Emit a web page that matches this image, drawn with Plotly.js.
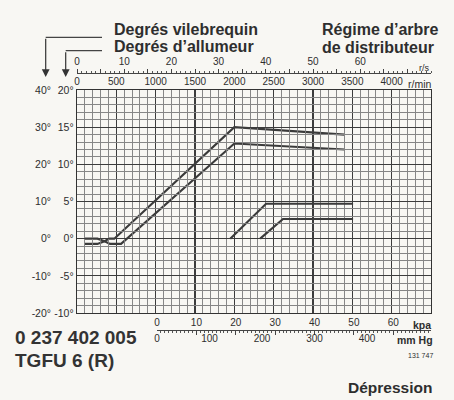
<!DOCTYPE html>
<html>
<head>
<meta charset="utf-8">
<script src="https://cdn.plot.ly/plotly-3.0.1.min.js"></script>
<style>html,body{margin:0;padding:0;background:#f8f7f3;}</style>
</head>
<body>
<div id="chart" style="width:454px;height:400px;"></div>
<script>
// ---- data ----
// centrifugal advance (engine speed r/min vs distributor degrees)
const rpmA = [100, 260, 350, 420, 560, 2000, 3400];
const degA = [0, 0, -0.35, -0.7, -0.7, 12.8, 12.0];
const rpmB = [100, 260, 350, 410, 474, 2000, 3400];
const degB = [-0.7, -0.7, -0.35, 0, 0, 15, 14];
// vacuum advance (depression kPa vs distributor degrees)
const kpaC = [18.6, 27.7, 49.8];
const degC = [0, 4.7, 4.7];
const kpaD = [26.2, 32.0, 49.8];
const degD = [0, 2.65, 2.65];
// tick labels
const rpmTicks = [0, 500, 1000, 1500, 2000, 2500, 3000, 3500, 4000];
const rsTicks = [0, 5, 10, 15, 20, 25, 30, 35, 40, 45, 50, 55, 60, 65, 70];
const rsLabels = ['0', '', '10', '', '20', '', '30', '', '40', '', '50', '', '60', '', ''];
const kpaTicks = [0, 10, 20, 30, 40, 50, 60];
const mmHgTicks = [0, 100, 200, 300, 400];
const distTicks = [-10, -5, 0, 5, 10, 15, 20];
const crankTicks = [-20, -10, 0, 10, 20, 30, 40];

// ---- layout helpers (pixel -> paper) ----
const W = 454, H = 400, M = 10;
const px = v => (v - M) / (W - 2 * M);
const py = v => (H - M - v) / (H - 2 * M);

const ink = '#2e2e2e';
const font = 'Liberation Sans, Arial, sans-serif';
const lineStyle = {color: '#3a3a3a', width: 2.1};

const traces = [
  {x: rpmA, y: degA, xaxis: 'x', yaxis: 'y', mode: 'lines', line: lineStyle, hoverinfo: 'skip'},
  {x: rpmB, y: degB, xaxis: 'x', yaxis: 'y', mode: 'lines', line: lineStyle, hoverinfo: 'skip'},
  {x: kpaC, y: degC, xaxis: 'x3', yaxis: 'y', mode: 'lines', line: lineStyle, hoverinfo: 'skip'},
  {x: kpaD, y: degD, xaxis: 'x3', yaxis: 'y', mode: 'lines', line: lineStyle, hoverinfo: 'skip'},
  // empty carriers so the extra scales get drawn
  {x: [], y: [], xaxis: 'x2', yaxis: 'y', mode: 'lines', hoverinfo: 'skip'},
  {x: [], y: [], xaxis: 'x4', yaxis: 'y', mode: 'lines', hoverinfo: 'skip'},
  {x: [], y: [], xaxis: 'x', yaxis: 'y2', mode: 'lines', hoverinfo: 'skip'}
];

const kpaMax = (431 - 157) / 3.9375;
const tickFont = {family: font, size: 10, color: ink};

const layout = {
  width: W, height: H,
  margin: {l: M, r: M, t: M, b: M},
  paper_bgcolor: '#f8f7f3',
  plot_bgcolor: 'rgba(0,0,0,0)',
  showlegend: false,
  font: {family: font, color: ink},
  xaxis: {
    domain: [px(77), px(431)], range: [0, 4500], side: 'top', anchor: 'y',
    tickmode: 'array', tickvals: rpmTicks, ticktext: rpmTicks.map(String),
    ticks: '', tickfont: tickFont,
    showgrid: true, gridcolor: '#3c3c3c', gridwidth: 1.1,
    minor: {dtick: 100, tick0: 0, showgrid: true, gridcolor: '#858585', gridwidth: 0.85},
    showline: true, mirror: true, linecolor: '#333', linewidth: 1.3,
    zeroline: false, fixedrange: true
  },
  xaxis2: {
    domain: [px(77), px(431)], range: [0, 75], side: 'top', anchor: 'free', position: py(72.5),
    tickmode: 'array', tickvals: rsTicks, ticktext: rsLabels,
    ticks: 'outside', ticklen: 4, tickcolor: '#444', tickwidth: 1,
    minor: {dtick: 1, tick0: 0, ticks: 'outside', ticklen: 2, tickcolor: '#555', showgrid: false},
    tickfont: tickFont, showgrid: false, showline: true, linecolor: '#444', linewidth: 1,
    zeroline: false, fixedrange: true
  },
  xaxis3: {
    domain: [px(157), px(431)], range: [0, kpaMax], side: 'top', anchor: 'free', position: py(329.5),
    tickmode: 'array', tickvals: kpaTicks, ticktext: kpaTicks.map(String),
    ticks: 'inside', ticklen: 4, tickcolor: '#444', tickwidth: 1,
    minor: {dtick: 1, tick0: 0, ticks: 'inside', ticklen: 2, tickcolor: '#555', showgrid: false},
    tickfont: tickFont, showgrid: false, showline: true, linecolor: '#444', linewidth: 1,
    zeroline: false, fixedrange: true
  },
  xaxis4: {
    domain: [px(157), px(431)], range: [0, kpaMax * 7.50062], side: 'bottom', anchor: 'free', position: py(331),
    tickmode: 'array', tickvals: mmHgTicks, ticktext: mmHgTicks.map(String),
    ticks: '', tickfont: tickFont, showgrid: false, showline: false,
    zeroline: false, fixedrange: true
  },
  yaxis: {
    domain: [py(313), py(90)], range: [-10, 20], anchor: 'x',
    tickmode: 'array', tickvals: distTicks, ticktext: distTicks.map(v => v + '°'),
    ticks: '', tickfont: {family: font, size: 10.5, color: ink},
    showgrid: true, gridcolor: '#3c3c3c', gridwidth: 1.1,
    minor: {dtick: 1, tick0: 0, showgrid: true, gridcolor: '#858585', gridwidth: 0.85},
    showline: true, mirror: true, linecolor: '#333', linewidth: 1.3,
    zeroline: false, fixedrange: true
  },
  yaxis2: {
    domain: [py(313), py(90)], range: [-20, 40], anchor: 'free', position: px(51), side: 'left',
    tickmode: 'array', tickvals: crankTicks, ticktext: crankTicks.map(v => v + '°'),
    ticks: '', tickfont: {family: font, size: 10.5, color: ink},
    showgrid: false, showline: false, zeroline: false, fixedrange: true
  },
  shapes: [
    {type: 'line', xref: 'paper', yref: 'paper', x0: px(45.7), x1: px(102), y0: py(37.3), y1: py(37.3), line: {color: '#444', width: 1.2}},
    {type: 'line', xref: 'paper', yref: 'paper', x0: px(65.7), x1: px(102), y0: py(50.7), y1: py(50.7), line: {color: '#444', width: 1.2}}
  ],
  annotations: [
    {xref: 'paper', yref: 'paper', x: px(45.7), y: py(77), text: '', showarrow: true, ax: 0, ay: -39.7,
     arrowhead: 2, arrowsize: 1.3, arrowwidth: 1.2, arrowcolor: '#333'},
    {xref: 'paper', yref: 'paper', x: px(65.7), y: py(77), text: '', showarrow: true, ax: 0, ay: -26.3,
     arrowhead: 2, arrowsize: 1.3, arrowwidth: 1.2, arrowcolor: '#333'},
    {xref: 'paper', yref: 'paper', x: px(112), y: py(29), xanchor: 'left', yanchor: 'middle', showarrow: false,
     text: '<b>Degrés vilebrequin</b>', font: {family: font, size: 16, color: ink}},
    {xref: 'paper', yref: 'paper', x: px(112), y: py(47), xanchor: 'left', yanchor: 'middle', showarrow: false,
     text: '<b>Degrés d’allumeur</b>', font: {family: font, size: 16, color: ink}},
    {xref: 'paper', yref: 'paper', x: px(320), y: py(29), xanchor: 'left', yanchor: 'middle', showarrow: false,
     text: '<b>Régime d’arbre</b>', font: {family: font, size: 16, color: ink}},
    {xref: 'paper', yref: 'paper', x: px(320), y: py(48), xanchor: 'left', yanchor: 'middle', showarrow: false,
     text: '<b>de distributeur</b>', font: {family: font, size: 16, color: ink}},
    {xref: 'paper', yref: 'paper', x: px(431), y: py(68), xanchor: 'right', yanchor: 'middle', showarrow: false,
     text: 'r/s', font: {family: font, size: 9, color: ink}},
    {xref: 'paper', yref: 'paper', x: px(433), y: py(84), xanchor: 'right', yanchor: 'middle', showarrow: false,
     text: 'r/min', font: {family: font, size: 10.5, color: ink}},
    {xref: 'paper', yref: 'paper', x: px(433), y: py(325), xanchor: 'right', yanchor: 'middle', showarrow: false,
     text: '<b>kpa</b>', font: {family: font, size: 10.5, color: ink}},
    {xref: 'paper', yref: 'paper', x: px(435), y: py(340), xanchor: 'right', yanchor: 'middle', showarrow: false,
     text: '<b>mm Hg</b>', font: {family: font, size: 10.5, color: ink}},
    {xref: 'paper', yref: 'paper', x: px(435), y: py(355), xanchor: 'right', yanchor: 'middle', showarrow: false,
     text: '131 747', font: {family: font, size: 7, color: ink}},
    {xref: 'paper', yref: 'paper', x: px(13), y: py(337), xanchor: 'left', yanchor: 'middle', showarrow: false,
     text: '<b>0 237 402 005</b>', font: {family: font, size: 19, color: '#333'}},
    {xref: 'paper', yref: 'paper', x: px(13), y: py(360), xanchor: 'left', yanchor: 'middle', showarrow: false,
     text: '<b>TGFU 6 (R)</b>', font: {family: font, size: 19, color: '#333'}},
    {xref: 'paper', yref: 'paper', x: px(434), y: py(387), xanchor: 'right', yanchor: 'middle', showarrow: false,
     text: '<b>Dépression</b>', font: {family: font, size: 15.5, color: ink}}
  ]
};

Plotly.newPlot('chart', traces, layout, {staticPlot: true, displayModeBar: false});
</script>
</body>
</html>
